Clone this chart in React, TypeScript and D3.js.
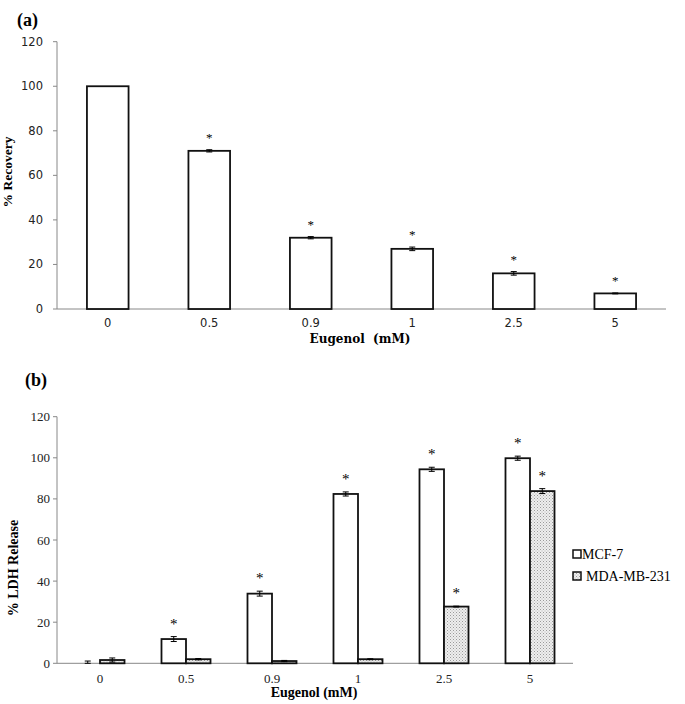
import React from "react";
import * as d3 from "d3";

const categories = ["0", "0.5", "0.9", "1", "2.5", "5"];
const recovery = [100, 71, 32, 27, 16, 7];
const recoveryErr = [0, 0.5, 0.5, 0.8, 0.8, 0.2];
const recoveryStar = [false, true, true, true, true, true];

const seriesNames = ["MCF-7", "MDA-MB-231"];
const mcf7 = [0.3, 11.8, 33.9, 82.4, 94.4, 99.8];
const mcf7Err = [0.8, 1.2, 1.2, 1.0, 1.0, 1.0];
const mcf7Star = [false, true, true, true, true, true];
const mda = [1.6, 2.0, 1.1, 2.0, 27.6, 83.8];
const mdaErr = [1.0, 0.3, 0.3, 0.2, 0.2, 1.2];
const mdaStar = [false, false, false, false, true, true];

const yTicks = [0, 20, 40, 60, 80, 100, 120];

const W = 685;
const H = 704;

function ErrBar({ x, y0, y1, cap }: { x: number; y0: number; y1: number; cap: number }) {
  return (
    <g stroke="#000" strokeWidth={1}>
      <line x1={x} x2={x} y1={y0} y2={y1} />
      <line x1={x - cap} x2={x + cap} y1={y0} y2={y0} />
      <line x1={x - cap} x2={x + cap} y1={y1} y2={y1} />
    </g>
  );
}

export default function App() {
  // Panel (a)
  const ax = d3.scaleBand<string>().domain(categories).range([57, 666]).paddingInner(0.59).paddingOuter(0.295);
  const ay = d3.scaleLinear().domain([0, 120]).range([309, 41.7]);

  // Panel (b)
  const bx = d3.scaleBand<string>().domain(categories).range([57, 573]).paddingInner(0.43).paddingOuter(0.215);
  const bSub = d3.scaleBand<string>().domain(seriesNames).range([0, bx.bandwidth()]);
  const by = d3.scaleLinear().domain([0, 120]).range([663.3, 416.7]);

  const sans = "'DejaVu Sans', Verdana, sans-serif";
  const serif = "'Liberation Serif', 'Times New Roman', serif";
  const wideSerif = "'DejaVu Serif', serif";

  return (
    <svg width={W} height={H} style={{ position: "absolute", left: 0, top: 0, background: "#fff" }}>
      <defs>
        <pattern id="dots" width={3} height={3} patternUnits="userSpaceOnUse">
          <rect width={3} height={3} fill="#eeeeee" />
          <rect x={0} y={0} width={1} height={1} fill="#9a9a9a" />
          <rect x={1.5} y={1.5} width={1} height={1} fill="#b5b5b5" />
        </pattern>
      </defs>
      <rect width={W} height={H} fill="#fff" />

      {/* ===== Panel (a) ===== */}
      <text x={17} y={26} fontFamily={serif} fontWeight="bold" fontSize={18}>(a)</text>
      <line x1={57} x2={57} y1={ay(120)} y2={ay(0)} stroke="#888" strokeWidth={1} />
      <line x1={57} x2={666} y1={ay(0)} y2={ay(0)} stroke="#888" strokeWidth={1} />
      {yTicks.map((t) => (
        <g key={"at" + t}>
          <line x1={53} x2={57} y1={ay(t)} y2={ay(t)} stroke="#888" />
          <text x={43} y={ay(t)} dy="0.35em" textAnchor="end" fontFamily={sans} fontSize={11.5} fill="#222">{t}</text>
        </g>
      ))}
      {categories.map((c, i) => {
        const x = ax(c)!;
        const w = ax.bandwidth();
        const cx = x + w / 2;
        const top = ay(recovery[i]);
        return (
          <g key={"ab" + c}>
            <rect x={x} y={top} width={w} height={ay(0) - top} fill="#fff" stroke="#111" strokeWidth={1.8} />
            {recoveryErr[i] > 0 && (
              <ErrBar x={cx} y0={ay(recovery[i] + recoveryErr[i])} y1={ay(recovery[i] - recoveryErr[i])} cap={3} />
            )}
            {recoveryStar[i] && (
              <text x={cx} y={ay(recovery[i] + recoveryErr[i]) - 8} textAnchor="middle" fontFamily={serif} fontSize={13} fill="#000">*</text>
            )}
            <text x={cx} y={ay(0) + 18} textAnchor="middle" fontFamily={sans} fontSize={11.5} fill="#222">{c}</text>
          </g>
        );
      })}
      <text x={360} y={343} textAnchor="middle" fontFamily={wideSerif} fontWeight="bold" fontSize={12} xmlSpace="preserve">Eugenol  (mM)</text>
      <text transform={`translate(12,172) rotate(-90)`} textAnchor="middle" fontFamily={serif} fontWeight="bold" fontSize={13.5}>% Recovery</text>

      {/* ===== Panel (b) ===== */}
      <text x={25} y={386} fontFamily={serif} fontWeight="bold" fontSize={18}>(b)</text>
      <line x1={57} x2={57} y1={by(120)} y2={by(0)} stroke="#888" strokeWidth={1} />
      <line x1={57} x2={573} y1={by(0)} y2={by(0)} stroke="#888" strokeWidth={1} />
      {yTicks.map((t) => (
        <g key={"bt" + t}>
          <line x1={53} x2={57} y1={by(t)} y2={by(t)} stroke="#888" />
          <text x={50} y={by(t)} dy="0.35em" textAnchor="end" fontFamily={serif} fontSize={13} fill="#222">{t}</text>
        </g>
      ))}
      {categories.map((c, i) => {
        const gx = bx(c)!;
        const bw = bSub.bandwidth();
        const series = [
          { name: seriesNames[0], v: mcf7[i], e: mcf7Err[i], s: mcf7Star[i], fill: "#fff" },
          { name: seriesNames[1], v: mda[i], e: mdaErr[i], s: mdaStar[i], fill: "url(#dots)" },
        ];
        return (
          <g key={"bg" + c}>
            {series.map((d) => {
              const x = gx + bSub(d.name)!;
              const cx = x + bw / 2;
              const top = by(d.v);
              return (
                <g key={d.name}>
                  {d.v > 0.5 && (
                    <rect x={x} y={top} width={bw} height={by(0) - top} fill={d.fill} stroke="#111" strokeWidth={1.8} />
                  )}
                  <ErrBar x={cx} y0={by(d.v + d.e)} y1={by(Math.max(d.v - d.e, 0))} cap={3} />
                  {d.s && (
                    <text x={cx} y={by(d.v + d.e) - 8} textAnchor="middle" fontFamily={serif} fontSize={15} fill="#000">*</text>
                  )}
                </g>
              );
            })}
            <text x={gx + bx.bandwidth() / 2} y={by(0) + 20} textAnchor="middle" fontFamily={serif} fontSize={13} fill="#222">{c}</text>
          </g>
        );
      })}
      <text x={314} y={697} textAnchor="middle" fontFamily={serif} fontWeight="bold" fontSize={14}>Eugenol (mM)</text>
      <text transform={`translate(18,568) rotate(-90)`} textAnchor="middle" fontFamily={serif} fontWeight="bold" fontSize={14}>% LDH Release</text>

      {/* Legend */}
      <g>
        <rect x={573} y={550} width={8} height={8} fill="#fff" stroke="#111" strokeWidth={1.5} />
        <text x={582} y={559} fontFamily={serif} fontSize={14}>{seriesNames[0]}</text>
        <rect x={573} y={572} width={8} height={8} fill="url(#dots)" stroke="#111" strokeWidth={1.5} />
        <text x={586} y={581} fontFamily={serif} fontSize={14}>{seriesNames[1]}</text>
      </g>
    </svg>
  );
}
